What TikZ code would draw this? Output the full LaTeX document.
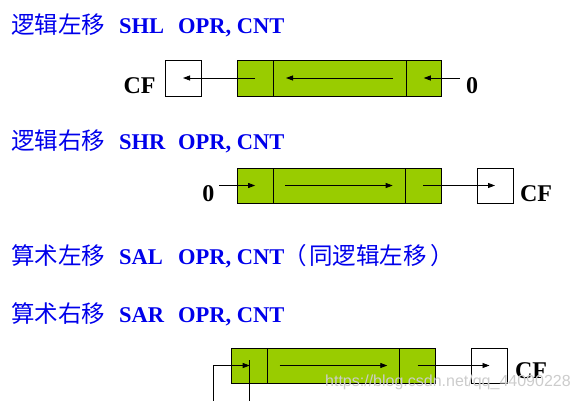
\documentclass[tikz,border=0pt]{standalone}
\usepackage{fontspec}
\setmainfont{Liberation Serif}
\newfontfamily\cjk{Noto Sans CJK SC}
\newfontfamily\wmfont{Liberation Sans}
\usetikzlibrary{arrows.meta}
\definecolor{titleblue}{RGB}{0,0,235}
\definecolor{bargreen}{RGB}{153,204,0}
\tikzset{
  cjkt/.style={anchor=base west,inner sep=0pt,text=titleblue,font=\cjk\fontsize{23.5}{26}\selectfont},
  latt/.style={anchor=base west,inner sep=0pt,text=titleblue,font=\bfseries\fontsize{22.5}{25}\selectfont},
  lab/.style={anchor=base,inner sep=0pt,font=\bfseries\fontsize{24}{26}\selectfont},
  cell/.style={draw,fill=bargreen,line width=0.8pt,inner sep=0pt,outer sep=0pt,minimum height=#1},
  cfbox/.style={draw,fill=white,line width=0.8pt,inner sep=0pt,outer sep=0pt,minimum width=36pt,minimum height=#1},
  arr/.style={line width=0.8pt,-{Triangle[length=7pt,width=5pt]}},
  ln/.style={line width=0.8pt},
  wm/.style={anchor=base west,inner sep=0pt,text=gray!40,font=\wmfont\fontsize{16}{18}\selectfont}
}
\begin{document}
\begin{tikzpicture}[x=1pt,y=-1pt]
\useasboundingbox (0,0) rectangle (579,400);
% titles
\node[cjkt] (t1a) at (11,33) {逻辑左移};
\node[latt] (t1b) at (119,33) {SHL};
\node[latt] (t1c) at (178,33) {OPR, CNT};
\node[cjkt] (t2a) at (11,149) {逻辑右移};
\node[latt] (t2b) at (119,149) {SHR};
\node[latt] (t2c) at (178,149) {OPR, CNT};
\node[cjkt] (t3a) at (11,264) {算术左移};
\node[latt] (t3b) at (119,264) {SAL};
\node[latt] (t3c) at (178,264) {OPR, CNT};
\node[cjkt] (t3d) at (283,264) {（};
\node[cjkt] (t3e) at (309,264) {同逻辑左移};
\node[cjkt] (t3f) at (430,264) {）};
\node[cjkt] (t4a) at (11,322) {算术右移};
\node[latt] (t4b) at (119,322) {SAR};
\node[latt] (t4c) at (178,322) {OPR, CNT};
% diagram 1: SHL
\node[cfbox=36pt] (cf1) at (183,78) {};
\node[cell=36pt,minimum width=36pt] (l1) at (255,78) {};
\node[cell=36pt,minimum width=133pt] (m1) at (339.5,78) {};
\node[cell=36pt,minimum width=35.5pt] (r1) at (423.75,78) {};
\node[lab] (cfl1) at (139.5,93) {CF};
\node[lab] (z1) at (472,93) {0};
\coordinate (z1s) at (460,78);
\draw[arr] (z1s) -- (r1.center);
\draw[arr] ([xshift=-13pt]m1.east) -- ([xshift=13pt]m1.west);
\draw[arr] (l1.center) -- (cf1.center);
% diagram 2: SHR
\node[cell=35pt,minimum width=35.7pt] (l2) at (255.15,185.5) {};
\node[cell=35pt,minimum width=132.7pt] (m2) at (339.35,185.5) {};
\node[cell=35pt,minimum width=35.3pt] (r2) at (423.35,185.5) {};
\node[cfbox=35pt] (cf2) at (495,185.5) {};
\node[lab] (z2) at (208.3,201) {0};
\node[lab] (cfl2) at (536,201) {CF};
\coordinate (z2s) at (219,185.5);
\draw[arr] (z2s) -- (l2.center);
\draw[arr] ([xshift=12pt]m2.west) -- ([xshift=-13pt]m2.east);
\draw[arr] (r2.center) -- (cf2.center);
% diagram 4: SAR
\node[cell=35pt,minimum width=36pt] (l4) at (249.7,365.5) {};
\node[cell=35pt,minimum width=131.6pt] (m4) at (333.5,365.5) {};
\node[cell=35pt,minimum width=36.4pt] (r4) at (417.5,365.5) {};
\node[cfbox=35pt] (cf4) at (489.5,365.5) {};
\node[lab] (cfl4) at (531,378) {CF};
\coordinate (b1) at (213.3,401);
\coordinate (b2) at (249.7,401);
\draw[arr] (b1) |- (l4.center);
\draw[ln] (b2) -- ([yshift=6pt]l4.center);
\draw[arr] ([xshift=12pt]m4.west) -- ([xshift=-12pt]m4.east);
\draw[arr] (r4.center) -- (cf4.center);
% watermark
\node[wm] (wmk) at (325,386) {https://blog.csdn.net/qq\_44090228};
\end{tikzpicture}
\end{document}
